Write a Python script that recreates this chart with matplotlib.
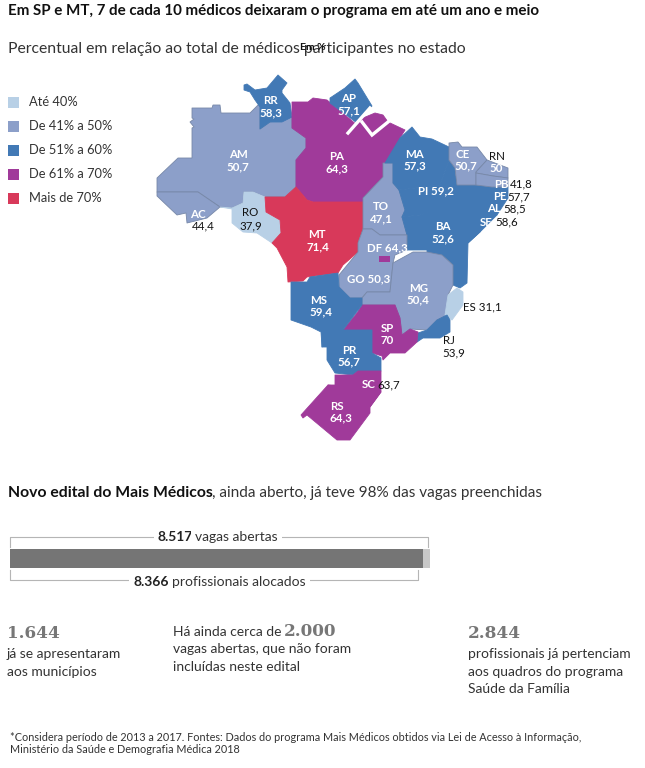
import matplotlib
matplotlib.use("Agg")
import matplotlib.pyplot as plt
from matplotlib.patches import Polygon, Rectangle

plt.rcParams["font.family"] = ["Lato", "DejaVu Sans"]

# -------- Data --------
legend_labels = ["Até 40%", "De 41% a 50%", "De 51% a 60%", "De 61% a 70%", "Mais de 70%"]
class_colors = ["#b8d0e6", "#8c9fc9", "#4279b5", "#a03a9a", "#d8395a"]
class_limits = [41, 51, 61, 71]

state_values = {
    "AC": 44.4, "AM": 50.7, "RR": 58.3, "AP": 57.1, "PA": 64.3, "RO": 37.9, "MT": 71.4,
    "TO": 47.1, "MA": 57.3, "PI": 59.2, "CE": 50.7, "RN": 50, "PB": 41.8, "PE": 57.7,
    "AL": 58.5, "SE": 58.6, "BA": 52.6, "GO": 50.3, "DF": 64.3, "MG": 50.4, "ES": 31.1,
    "RJ": 53.9, "SP": 70, "MS": 59.4, "PR": 56.7, "SC": 63.7, "RS": 64.3,
}

# simplified state outlines (pixel coordinates)
state_shapes = {
    "AM": [(192,108),(212,108),(213,105),(220,105),(221,113),(250,113),(260,103),(260,129),(270,122),(292,117),(292,128),(306,138),(306,148),(296,160),(296,187),(285,197),(265,197),(253,192),(244,192),(243,203),(232,208),(220,207),(198,192),(157,192),(157,178),(178,158),(192,158),(192,128),(194,127),(190,122),(194,119),(192,118)],
    "AC": [(157,192),(198,192),(220,207),(207,218),(187,223),(186,213),(177,215),(157,196)],
    "RO": [(244,192),(253,192),(265,197),(266,212),(280,220),(281,233),(272,243),(257,233),(243,232),(232,223),(232,209),(220,207),(232,208),(243,203)],
    "RR": [(244,85),(247,84),(255,90),(267,88),(278,75),(287,83),(282,90),(282,93),(290,103),(292,117),(282,122),(270,122),(260,129),(260,107),(255,100),(250,92),(244,90)],
    "PA": [(292,102),(308,102),(313,98),(327,100),(357,125),(363,118),(375,113),(383,115),(388,122),(405,130),(400,138),(402,145),(385,163),(383,177),(363,198),(363,202),(313,202),(307,200),(296,187),(296,160),(306,148),(306,138),(292,128)],
    "AP": [(330,98),(345,88),(355,79),(358,83),(372,106),(357,123),(330,103)],
    "MT": [(296,187),(307,200),(313,202),(363,202),(363,230),(358,242),(358,252),(343,265),(338,273),(307,277),(303,281),(288,282),(287,267),(277,248),(272,243),(281,233),(280,220),(266,212),(265,197),(285,197)],
    "TO": [(383,163),(393,163),(393,183),(399,190),(405,210),(402,217),(407,235),(380,235),(372,229),(363,229),(363,198),(383,177)],
    "MA": [(385,163),(400,138),(412,127),(420,137),(432,139),(449,147),(449,160),(440,185),(399,190),(393,183),(393,163)],
    "PI": [(449,160),(455,168),(457,185),(476,185),(470,200),(420,215),(402,217),(405,210),(399,190),(440,185)],
    "PE": [(457,185),(476,185),(492,187),(508,187),(508,198),(470,200),(460,195)],
    "AL": [(470,197),(508,198),(497,215),(480,210)],
    "SE": [(475,205),(497,215),(480,232),(468,243)],
    "BA": [(402,217),(420,215),(470,197),(490,212),(480,232),(468,243),(467,283),(460,288),(453,285),(453,265),(442,255),(427,253),(427,250),(407,250),(407,235)],
    "CE": [(449,143),(458,142),(462,147),(477,147),(487,160),(476,172),(476,185),(457,185),(455,168),(449,160)],
    "RN": [(476,172),(487,160),(508,168),(508,178),(493,176),(476,173)],
    "PB": [(476,173),(493,176),(508,178),(508,187),(492,187),(476,185)],
    "GO": [(363,229),(372,229),(380,235),(407,235),(407,250),(395,255),(393,263),(390,292),(367,292),(362,298),(350,298),(339,287),(339,275),(358,252),(358,243)],
    "MG": [(393,263),(413,252),(427,252),(442,255),(453,265),(453,285),(448,295),(447,315),(437,320),(427,330),(410,329),(402,335),(400,318),(395,305),(362,305),(362,298),(367,292),(390,292)],
    "ES": [(448,295),(457,288),(463,292),(463,305),(452,320),(445,315)],
    "RJ": [(447,315),(450,320),(450,332),(440,338),(423,338),(417,342),(418,333),(427,330),(437,320)],
    "SP": [(362,305),(395,305),(400,318),(402,335),(410,329),(418,332),(417,342),(405,353),(390,353),(383,360),(382,356),(372,353),(372,330),(343,330),(357,313)],
    "MS": [(291,282),(307,282),(310,277),(338,273),(339,287),(350,298),(362,298),(362,305),(343,330),(332,337),(322,347),(321,332),(311,327),(291,320)],
    "PR": [(322,333),(322,347),(327,347),(327,360),(335,373),(353,375),(358,371),(381,371),(381,358),(372,353),(372,330),(343,330)],
    "SC": [(335,375),(353,375),(358,371),(381,371),(381,392),(370,407),(328,385),(335,385)],
    "RS": [(328,385),(301,415),(303,418),(307,415),(337,440),(350,440),(370,413),(370,407),(381,392)],
}
df_box = [(379,256),(390,262)]
island_lines = [[(348,133),(370,108)], [(362,122),(372,135),(388,122)]]

# label text: name, value, x, y of each line (pixel coordinates)
white_labels = {"RR":(271,100,271,113),"AP":(349,98,349,111),"AM":(238,155,238,167),"PA":(337,157,337,169),
                "MA":(415,154,415,166),"CE":(463,154,466,166),"TO":(381,207,381,219),"BA":(443,227,443,239),
                "MT":(317,235,318,247),"MG":(419,288,418,300),"MS":(319,300,321,312),"SP":(387,329,387,341),
                "PR":(349,350,349,362),"RS":(337,406,341,418)}

bar_total = 8517
bar_filled = 8366
note_left = ["já se apresentaram", "aos municípios"]
note_mid = ["Há ainda cerca de", "vagas abertas, que não foram", "incluídas neste edital"]
note_right = ["profissionais já pertenciam", "aos quadros do programa", "Saúde da Família"]


def class_color(v):
    for lim, c in zip(class_limits, class_colors):
        if v < lim:
            return c
    return class_colors[-1]


def fmt(v):
    return f"{v:g}".replace(".", ",")


fig = plt.figure(figsize=(6.45, 7.68), dpi=100)
ax = fig.add_axes([0, 0, 1, 1])
ax.set_xlim(0, 645)
ax.set_ylim(768, 0)
ax.axis("off")

MAP_SIZE = 8.3
BODY = 10

# -------- Titles --------
ax.text(8, 15, "Em SP e MT, 7 de cada 10 médicos deixaram o programa em até um ano e meio",
        fontsize=10.87, fontweight="bold", color="#111111")
ax.text(8, 53, "Percentual em relação ao total de médicos participantes no estado",
        fontsize=11.35, color="#333333")
ax.text(313, 50, "Em %", fontsize=7.5, fontweight="bold", color="#111111", ha="center")

# -------- Legend --------
for i, (lab, col) in enumerate(zip(legend_labels, class_colors)):
    y = 102 + i * 24
    ax.add_patch(Rectangle((8, y - 5.5), 11, 11, fc=col, ec="none"))
    ax.text(29, y + 4, lab, fontsize=9.3, color="#333333")

# -------- Map --------
for st, pts in state_shapes.items():
    c = class_color(state_values[st])
    edge = "#7788a8" if c == class_colors[1] else c
    ax.add_patch(Polygon(pts, closed=True, fc=c, ec=edge, lw=0.6, joinstyle="round"))
for ln in island_lines:
    ax.plot([p[0] for p in ln], [p[1] for p in ln], color="white", lw=2.4, solid_joinstyle="miter")
(x0, y0), (x1, y1) = df_box
ax.add_patch(Rectangle((x0, y0), x1 - x0, y1 - y0, fc=class_color(state_values["DF"]), ec="none"))


def map_text(x, y, txt, col="white", weight="bold"):
    ax.text(x, y, txt, fontsize=MAP_SIZE, fontweight=weight, color=col, ha="center", va="center")


for st, (x1, y1, x2, y2) in white_labels.items():
    map_text(x1, y1, st)
    map_text(x2, y2, fmt(state_values[st]))

# labels that sit partly or fully outside the state
map_text(198, 214, "AC")
map_text(203, 226, fmt(state_values["AC"]), "#111111", "normal")
map_text(250, 213, "RO", "#111111", "normal")
map_text(251, 226, fmt(state_values["RO"]), "#111111", "normal")
map_text(497, 156, "RN", "#111111", "normal")
map_text(496, 168, fmt(state_values["RN"]))
for st, xs, xv, y in [("PB", 501, 521, 184), ("PE", 500, 519, 197), ("AL", 494, 515, 209), ("SE", 486, 507, 222)]:
    map_text(xs, y, st)
    map_text(xv, y, fmt(state_values[st]), "#111111", "normal")
map_text(436, 191, "PI " + fmt(state_values["PI"]))
map_text(369, 279, "GO " + fmt(state_values["GO"]))
map_text(387, 248, "DF " + fmt(state_values["DF"]))
map_text(482, 307, "ES " + fmt(state_values["ES"]), "#111111", "normal")
map_text(449, 341, "RJ", "#111111", "normal")
map_text(454, 353, fmt(state_values["RJ"]), "#111111", "normal")
map_text(369, 385, "SC")
map_text(389, 385, fmt(state_values["SC"]), "#111111", "normal")

# -------- Second block --------
ax.text(8, 497, "Novo edital do Mais Médicos", fontsize=11.35, fontweight="bold", color="#111111")
ax.text(212, 497, ", ainda aberto, já teve 98% das vagas preenchidas", fontsize=BODY + 1, color="#333333")

bar_ax = fig.add_axes([9.5 / 645, 1 - 590 / 768, (430 - 9.5) / 645, 60 / 768])
bar_ax.set_xlim(0, bar_total)
bar_ax.set_ylim(590, 530)
bar_ax.axis("off")
bar_ax.barh(558.5, bar_total, height=19, color="#c8c8c8")
bar_ax.barh(558.5, bar_filled, height=19, color="#757575")
bar_ax.plot([0, 0, bar_total * 0.995, bar_total * 0.995], [547, 537, 537, 547], color="#b5b5b5", lw=0.8, clip_on=False)
bar_ax.plot([0, 0, bar_filled * 0.99, bar_filled * 0.99], [570, 580, 580, 570], color="#b5b5b5", lw=0.8, clip_on=False)

wb = dict(fc="white", ec="none", pad=3)
ax.set_zorder(2)
ax.patch.set_alpha(0)
ax.text(158, 541, "8.517", fontsize=BODY, fontweight="bold", color="#222222", bbox=wb)
ax.text(195, 541, "vagas abertas", fontsize=BODY, color="#333333", bbox=wb)
ax.text(133, 586, "8.366", fontsize=BODY, fontweight="bold", color="#222222", bbox=wb)
ax.text(172, 586, "profissionais alocados", fontsize=BODY, color="#333333", bbox=wb)

# -------- Notes --------
big = dict(fontsize=12.2, fontweight="bold", family=["DejaVu Serif"], color="#777777")
ax.text(7, 638, "1.644", **big)
ax.text(284, 636, "2.000", **big)
ax.text(468, 638, "2.844", **big)
for line, y in zip(note_left, [658, 676]):
    ax.text(7, y, line, fontsize=BODY, color="#333333")
for line, y in zip(note_mid, [636, 653, 671]):
    ax.text(173, y, line, fontsize=BODY, color="#333333")
for line, y in zip(note_right, [658, 676, 693]):
    ax.text(468, y, line, fontsize=BODY, color="#333333")

ax.text(10, 741, "*Considera período de 2013 a 2017. Fontes: Dados do programa Mais Médicos obtidos via Lei de Acesso à Informação,",
        fontsize=7.82, color="#333333")
ax.text(10, 753, "Ministério da Saúde e Demografia Médica 2018", fontsize=7.82, color="#333333")

fig.savefig("out.png", dpi=100)
